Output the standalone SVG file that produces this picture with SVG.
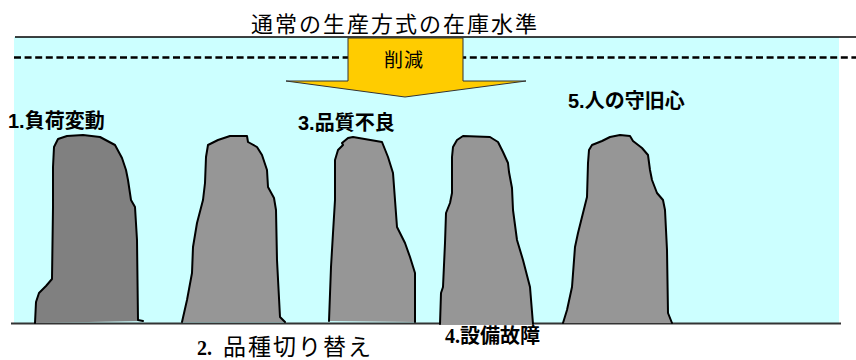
<svg xmlns="http://www.w3.org/2000/svg" width="856" height="360" viewBox="0 0 856 360">
  <style>
    .jp { font-family: "Liberation Sans", "Noto Sans CJK JP", sans-serif; fill: #000; }
    .lbl { font-size: 20px; font-weight: bold; }
    .num { font-family: "Liberation Serif", "Noto Sans CJK JP", serif; font-weight: bold; }
    .rock { stroke: #000; stroke-width: 2; stroke-linejoin: round; stroke-linecap: round; }
    .rock-dark { fill: #808080; }
    .rock-light { fill: #969696; }
  </style>

  <!-- water (inventory) area -->
  <rect id="water" x="14" y="37" width="825" height="286" fill="#CCFFFF"/>

  <!-- level lines -->
  <g id="levels">
    <line x1="15" y1="37" x2="856" y2="37" stroke="#000" stroke-width="1.5"/>
    <line x1="14" y1="57.5" x2="856" y2="57.5" stroke="#000" stroke-width="2.5" stroke-dasharray="7 3.6"/>
    <line x1="11" y1="323.5" x2="841" y2="323.5" stroke="#333" stroke-width="2"/>
  </g>

  <!-- title -->
  <text id="title" class="jp" x="395" y="32" font-size="22" letter-spacing="2" text-anchor="middle">通常の生産方式の在庫水準</text>

  <!-- reduction arrow -->
  <g id="arrow-reduce">
    <path d="M348 38 L463 38 L463 81 L526 81 L405 97 L286 81 L348 81 Z" fill="#FFCC00" stroke="#333" stroke-width="1"/>
    <text class="jp" x="404" y="67" font-size="19" letter-spacing="1" text-anchor="middle">削減</text>
  </g>

  <!-- rocks (problems hidden under inventory) -->
  <g id="rock-1">
    <path class="rock rock-dark" d="M35 323 L36 302 L39 293 L46 286 L52 279 L53 207 L53 167 L54 147 L58 139 L67 136 L83 135 L100 137 L115 145 L122 158 L126 170 L128 180 L131 200 L135 207 L137 240 L138 320 L143 321"/>
  </g>
  <g id="rock-2">
    <path class="rock rock-light" d="M182 322 L187 300 L192 273 L193 247 L197 223 L203 200 L205 183 L206 157 L208 145 L218 140 L230 136 L247 136 L248 142 L257 147 L262 155 L267 170 L268 187 L274 198 L276 210 L277 260 L280 317 L285 322"/>
  </g>
  <g id="rock-3">
    <path class="rock rock-light" d="M329 321 L331 267 L333 233 L335 200 L335 160 L338 150 L343 145 L342 143 L348 138 L353 137 L382 142 L388 157 L393 173 L395 200 L397 227 L405 243 L410 257 L415 273 L415 322"/>
  </g>
  <g id="rock-4">
    <path class="rock rock-light" d="M440 324 L441 293 L443 287 L445 243 L446 213 L450 203 L452 193 L452 157 L453 147 L457 140 L463 136 L490 137 L498 142 L503 152 L508 163 L509 172 L512 188 L513 210 L517 240 L523 260 L530 287 L533 324"/>
  </g>
  <g id="rock-5">
    <path class="rock rock-light" d="M563 323 L567 310 L572 287 L575 247 L578 233 L583 213 L587 197 L588 163 L589 150 L592 145 L597 143 L602 141 L610 137 L620 135 L630 136 L633 141 L642 148 L648 155 L650 170 L652 180 L657 193 L663 200 L665 210 L667 250 L668 313 L672 323"/>
  </g>

  <!-- problem labels -->
  <g id="label-1"><text class="jp lbl" x="8" y="128">1.負荷変動</text></g>
  <g id="label-2"><text class="jp" x="197" y="355" font-size="23"><tspan class="num" font-size="20">2.</tspan><tspan x="223" letter-spacing="2">品種切り替え</tspan></text></g>
  <g id="label-3"><text class="jp lbl" x="298" y="130">3.品質不良</text></g>
  <g id="label-4"><text class="jp lbl" x="445" y="343"><tspan class="num">4.</tspan>設備故障</text></g>
  <g id="label-5"><text class="jp lbl" x="568" y="108">5.人の守旧心</text></g>
</svg>
